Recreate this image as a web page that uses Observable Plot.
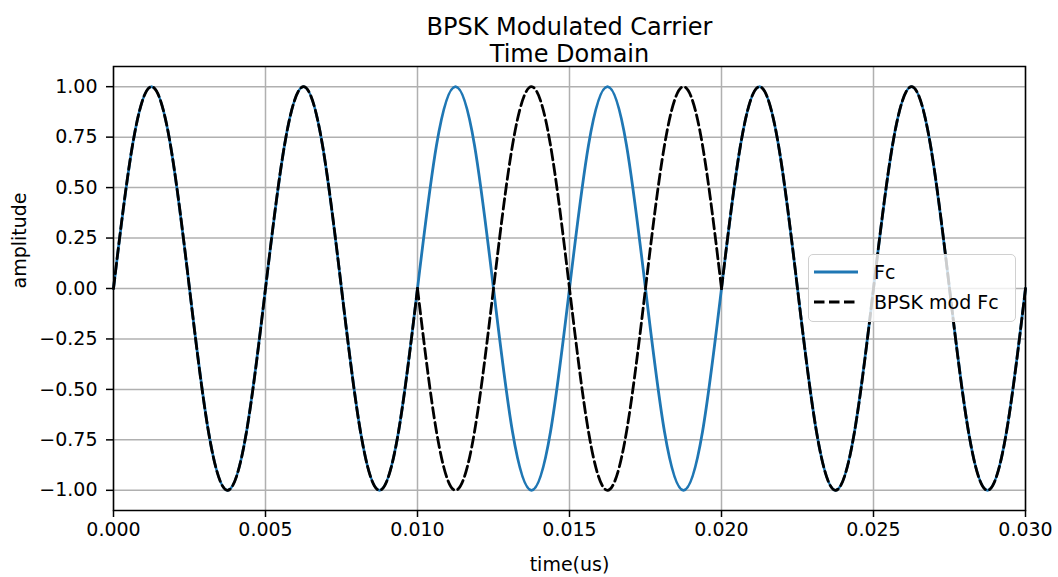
<!DOCTYPE html>
<html>
<head>
<meta charset="utf-8">
<script src="https://cdn.jsdelivr.net/npm/d3@7"></script>
<script src="https://cdn.jsdelivr.net/npm/@observablehq/plot@0.6"></script>
<style>
  html, body { margin: 0; padding: 0; background: #fff; }
  #wrap { position: relative; width: 1058px; height: 577px; font-family: "DejaVu Sans", sans-serif; }
  #legend { position: absolute; left: 808px; top: 254px; width: 208px; height: 68px;
    border: 1px solid #d0d0d0; border-radius: 5px; background: rgba(255,255,255,0.8);
    box-sizing: border-box; font-size: 19px; color: #000; }
  .row { position: absolute; left: 0; height: 24px; display: flex; align-items: center; }
  .row svg { margin-left: 5px; margin-right: 16px; }
</style>
</head>
<body>
<div id="wrap"></div>
<script>
// ---- data ----
const titleLines = ["BPSK Modulated Carrier", "Time Domain"];
const xLabel = "time(us)";
const yLabel = "amplitude";
const seriesNames = ["Fc", "BPSK mod Fc"];
const seriesColors = ["#1f77b4", "#000000"];

// sample instants (eighth of a carrier period)
const time = [0, 0.000625, 0.00125, 0.001875, 0.0025, 0.003125, 0.00375, 0.004375,
  0.005, 0.005625, 0.00625, 0.006875, 0.0075, 0.008125, 0.00875, 0.009375,
  0.010, 0.010625, 0.01125, 0.011875, 0.0125, 0.013125, 0.01375, 0.014375,
  0.015, 0.015625, 0.01625, 0.016875, 0.0175, 0.018125, 0.01875, 0.019375,
  0.020, 0.020625, 0.02125, 0.021875, 0.0225, 0.023125, 0.02375, 0.024375,
  0.025, 0.025625, 0.02625, 0.026875, 0.0275, 0.028125, 0.02875, 0.029375, 0.030];

const fc = [0, 0.71, 1, 0.71, 0, -0.71, -1, -0.71,
  0, 0.71, 1, 0.71, 0, -0.71, -1, -0.71,
  0, 0.71, 1, 0.71, 0, -0.71, -1, -0.71,
  0, 0.71, 1, 0.71, 0, -0.71, -1, -0.71,
  0, 0.71, 1, 0.71, 0, -0.71, -1, -0.71,
  0, 0.71, 1, 0.71, 0, -0.71, -1, -0.71, 0];

const bpsk = [0, 0.71, 1, 0.71, 0, -0.71, -1, -0.71,
  0, 0.71, 1, 0.71, 0, -0.71, -1, -0.71,
  0, -0.71, -1, -0.71, 0, 0.71, 1, 0.71,
  0, -0.71, -1, -0.71, 0, 0.71, 1, 0.71,
  0, 0.71, 1, 0.71, 0, -0.71, -1, -0.71,
  0, 0.71, 1, 0.71, 0, -0.71, -1, -0.71, 0];

const phaseFlips = [0.010, 0.020];   // symbol boundaries (phase reversals)

const xTicks = [0, 0.005, 0.010, 0.015, 0.020, 0.025, 0.030];
const yTicks = [-1, -0.75, -0.5, -0.25, 0, 0.25, 0.5, 0.75, 1];

// ---- tables ----
const fcRows = time.map((t, i) => ({t, v: fc[i]}));
const bpskRows = [];
time.forEach((t, i) => {
  const seg = phaseFlips.filter(b => b < t).length;
  bpskRows.push({t, v: bpsk[i], seg});
  if (phaseFlips.includes(t)) bpskRows.push({t, v: bpsk[i], seg: seg + 1});
});

const chart = Plot.plot({
  width: 1058,
  height: 577,
  marginLeft: 113,
  marginRight: 33,
  marginTop: 66,
  marginBottom: 67,
  style: {fontFamily: "DejaVu Sans, sans-serif", fontSize: "19px", background: "#fff", color: "#000"},
  x: {domain: [0, 0.03]},
  y: {domain: [-1.1, 1.1]},
  marks: [
    Plot.gridX(xTicks, {stroke: "#b0b0b0", strokeOpacity: 1, strokeWidth: 1.5}),
    Plot.gridY(yTicks, {stroke: "#b0b0b0", strokeOpacity: 1, strokeWidth: 1.5}),
    Plot.line(fcRows, {x: "t", y: "v", curve: "natural", stroke: seriesColors[0], strokeWidth: 2.8}),
    Plot.line(bpskRows, {x: "t", y: "v", z: "seg", curve: "natural", stroke: seriesColors[1], strokeWidth: 2.8, strokeDasharray: "10.5,4.5"}),
    Plot.frame({stroke: "#000", strokeWidth: 1.5}),
    Plot.axisX(xTicks, {tickFormat: d3.format(".3f"), tickSize: 7, tickPadding: 5, strokeWidth: 1.5, label: null, fontSize: 19}),
    Plot.axisY(yTicks, {tickFormat: d3.format(".2f"), tickSize: 7, tickPadding: 9, strokeWidth: 1.5, label: null, fontSize: 19}),
    Plot.text([xLabel], {frameAnchor: "bottom", dy: 60, fontSize: 19, fill: "#000"}),
    Plot.text([yLabel], {frameAnchor: "left", dx: -94, rotate: -90, fontSize: 19, fill: "#000"}),
    Plot.text([titleLines[0]], {frameAnchor: "top", dy: -48.5, fontSize: 24, fill: "#000"}),
    Plot.text([titleLines[1]], {frameAnchor: "top", dy: -22, fontSize: 24, fill: "#000"})
  ]
});

const wrap = document.getElementById("wrap");
wrap.appendChild(chart);

// legend
const legend = document.createElement("div");
legend.id = "legend";
const rowTops = [5, 35];
seriesNames.forEach((name, i) => {
  const row = document.createElement("div");
  row.className = "row";
  row.style.top = rowTops[i] + "px";
  const dash = i === 1 ? ' stroke-dasharray="10.5,4.5"' : "";
  row.innerHTML = `<svg width="44" height="10"><line x1="0" y1="5" x2="44" y2="5" stroke="${seriesColors[i]}" stroke-width="2.8"${dash}/></svg><span>${name}</span>`;
  legend.appendChild(row);
});
wrap.appendChild(legend);
</script>
</body>
</html>
